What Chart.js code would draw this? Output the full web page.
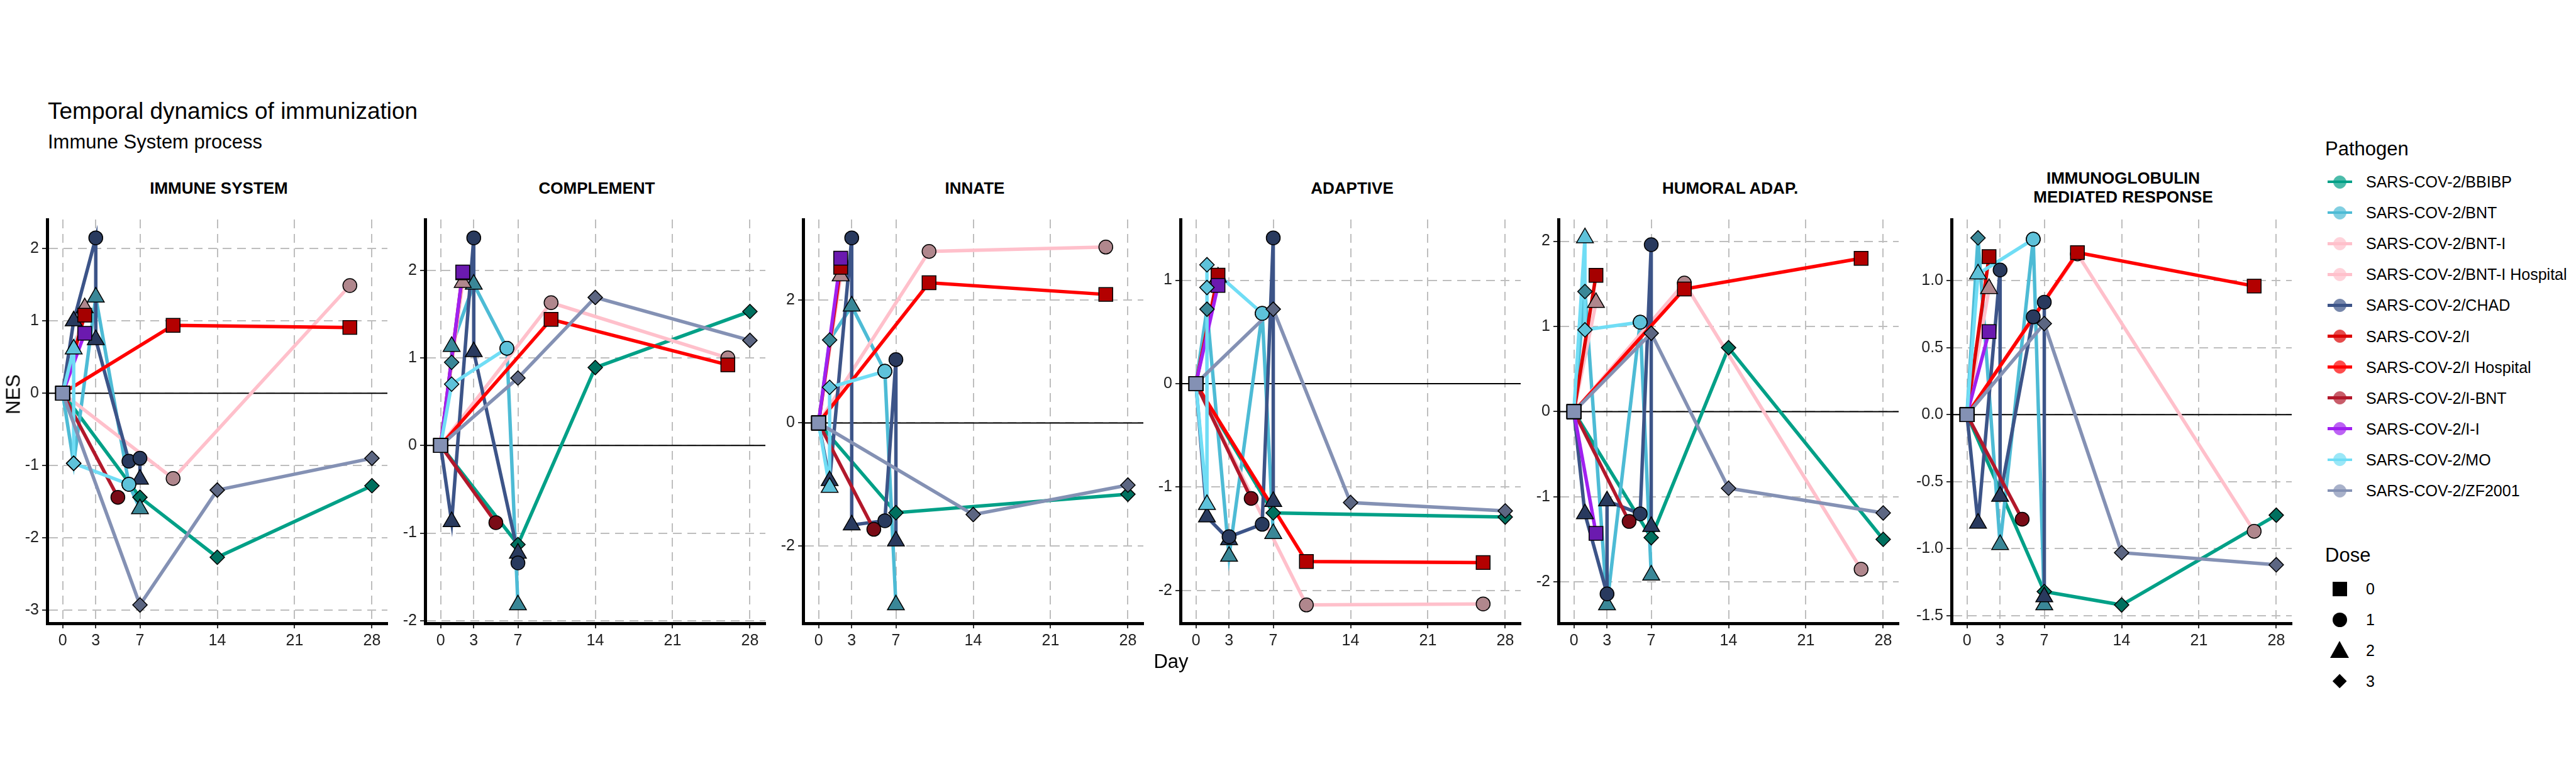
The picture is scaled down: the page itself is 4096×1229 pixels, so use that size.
<!DOCTYPE html>
<html>
<head>
<meta charset="utf-8">
<script src="https://cdn.jsdelivr.net/npm/chart.js@4.4.1/dist/chart.umd.min.js"></script>
<style>
  html, body { margin: 0; padding: 0; background: #fff; }
  body { width: 4096px; height: 1229px; position: relative; overflow: hidden;
         font-family: "Liberation Sans", Arial, Helvetica, sans-serif; color: #000; }
  .t { position: absolute; white-space: nowrap; line-height: 1; }
  canvas { position: absolute; }
  .key { position: absolute; }
</style>
</head>
<body>
<script>
// Temporal dynamics of immunization — NES por dia, um painel por processo

const pathogens = [
  'SARS-COV-2/BBIBP', 'SARS-COV-2/BNT', 'SARS-COV-2/BNT-I', 'SARS-COV-2/BNT-I Hospital',
  'SARS-COV-2/CHAD', 'SARS-COV-2/I', 'SARS-COV-2/I Hospital', 'SARS-COV-2/I-BNT',
  'SARS-COV-2/I-I', 'SARS-COV-2/MO', 'SARS-COV-2/ZF2001'
];
const doses = ['0', '1', '2', '3'];
const panelTitles = ['IMMUNE SYSTEM', 'COMPLEMENT', 'INNATE', 'ADAPTIVE', 'HUMORAL ADAP.',
                     'IMMUNOGLOBULIN|MEDIATED RESPONSE'];
const dayTicks = [0, 3, 7, 14, 21, 28];
const nesTicks = [
  [-3, -2, -1, 0, 1, 2],
  [-2, -1, 0, 1, 2],
  [-2, 0, 2],
  [-2, -1, 0, 1],
  [-2, -1, 0, 1, 2],
  [-1.5, -1, -0.5, 0, 0.5, 1]
];

// [day, NES, dose] por pathogen (mesma ordem de `pathogens`)
const immuneSystem = [
  [[0, 0, 0], [7, -1.44, 3], [14, -2.27, 3], [28, -1.28, 3]],
  [[0, 0, 0], [1, -0.97, 3], [3, 1.33, 2], [6, -1.26, 1], [7, -1.6, 2]],
  [[0, 0, 0], [2, 1.18, 2]],
  [[0, 0, 0], [10, -1.18, 1], [26, 1.49, 1]],
  [[0, 0, 0], [1, 1.0, 2], [3, 2.15, 1], [3, 0.74, 2], [6, -0.94, 1], [7, -0.9, 1], [7, -1.19, 2]],
  [[0, 0, 0], [2, 1.08, 0]],
  [[0, 0, 0], [10, 0.94, 0], [26, 0.91, 0]],
  [[0, 0, 0], [5, -1.44, 1]],
  [[0, 0, 0], [2, 0.83, 0]],
  [[0, 0, 0], [1, 0.61, 2], [1, -0.97, 3], [6, -1.26, 1]],
  [[0, 0, 0], [7, -2.93, 3], [14, -1.34, 3], [28, -0.9, 3]]
];
const complement = [
  [[0, 0, 0], [7, -1.13, 3], [14, 0.89, 3], [28, 1.53, 3]],
  [[0, 0, 0], [1, 0.95, 3], [1, 1.13, 2], [3, 1.84, 2], [6, 1.11, 1], [7, -1.82, 2]],
  [[0, 0, 0], [2, 1.86, 2]],
  [[0, 0, 0], [10, 1.63, 1], [26, 1.0, 1]],
  [[0, 0, 0], [1, -0.87, 2], [3, 2.37, 1], [3, 1.07, 2], [7, -1.23, 2], [7, -1.34, 1]],
  [[0, 0, 0], [2, 1.97, 0]],
  [[0, 0, 0], [10, 1.44, 0], [26, 0.92, 0]],
  [[0, 0, 0], [5, -0.88, 1]],
  [[0, 0, 0], [2, 1.98, 0]],
  [[0, 0, 0], [1, 0.70, 3], [6, 1.11, 1]],
  [[0, 0, 0], [7, 0.77, 3], [14, 1.69, 3], [28, 1.2, 3]]
];
const innate = [
  [[0, 0, 0], [7, -1.46, 3], [28, -1.16, 3]],
  [[0, 0, 0], [1, 1.35, 3], [3, 1.9, 2], [6, 0.84, 1], [7, -2.96, 2]],
  [[0, 0, 0], [2, 2.39, 2]],
  [[0, 0, 0], [10, 2.79, 1], [26, 2.86, 1]],
  [[0, 0, 0], [1, -0.94, 2], [3, 3.01, 1], [3, -1.66, 2], [6, -1.59, 1], [7, 1.03, 1], [7, -1.92, 2]],
  [[0, 0, 0], [2, 2.53, 0]],
  [[0, 0, 0], [10, 2.28, 0], [26, 2.09, 0]],
  [[0, 0, 0], [5, -1.73, 1]],
  [[0, 0, 0], [2, 2.68, 0]],
  [[0, 0, 0], [1, -1.05, 2], [1, 0.58, 3], [6, 0.84, 1]],
  [[0, 0, 0], [14, -1.49, 3], [28, -1.01, 3]]
];
const adaptive = [
  [[0, 0, 0], [7, -1.25, 3], [28, -1.29, 3]],
  [[0, 0, 0], [1, 0.72, 3], [3, -1.67, 2], [6, 0.68, 1], [7, -1.45, 2]],
  [[0, 0, 0], [2, 1.03, 2]],
  [[0, 0, 0], [10, -2.14, 1], [26, -2.13, 1]],
  [[0, 0, 0], [1, -1.29, 2], [3, -1.51, 2], [3, -1.48, 1], [6, -1.36, 1], [7, 1.41, 1], [7, -1.14, 2]],
  [[0, 0, 0], [2, 1.05, 0]],
  [[0, 0, 0], [10, -1.72, 0], [26, -1.73, 0]],
  [[0, 0, 0], [5, -1.11, 1]],
  [[0, 0, 0], [2, 0.95, 0]],
  [[0, 0, 0], [1, -1.17, 2], [1, 0.93, 3], [1, 1.15, 3], [6, 0.68, 1]],
  [[0, 0, 0], [7, 0.72, 3], [14, -1.15, 3], [28, -1.23, 3]]
];
const humoralAdap = [
  [[0, 0, 0], [7, -1.48, 3], [14, 0.75, 3], [28, -1.5, 3]],
  [[0, 0, 0], [1, 1.41, 3], [3, -2.27, 2], [6, 1.05, 1], [7, -1.92, 2]],
  [[0, 0, 0], [2, 1.28, 2]],
  [[0, 0, 0], [10, 1.51, 1], [26, -1.85, 1]],
  [[0, 0, 0], [1, -1.2, 2], [3, -2.14, 1], [3, -1.05, 2], [6, -1.2, 1], [7, 1.96, 1], [7, -1.35, 2]],
  [[0, 0, 0], [2, 1.6, 0]],
  [[0, 0, 0], [10, 1.44, 0], [26, 1.8, 0]],
  [[0, 0, 0], [5, -1.29, 1]],
  [[0, 0, 0], [2, -1.43, 0]],
  [[0, 0, 0], [1, 2.04, 2], [1, 0.96, 3], [6, 1.05, 1]],
  [[0, 0, 0], [7, 0.92, 3], [14, -0.9, 3], [28, -1.19, 3]]
];
const immunoglobulin = [
  [[0, 0, 0], [7, -1.32, 3], [14, -1.42, 3], [28, -0.75, 3]],
  [[0, 0, 0], [1, 1.32, 3], [3, -0.97, 2], [6, 1.31, 1], [7, -1.42, 2]],
  [[0, 0, 0], [2, 0.94, 2]],
  [[0, 0, 0], [10, 1.2, 1], [26, -0.87, 1]],
  [[0, 0, 0], [1, -0.81, 2], [3, 1.08, 1], [3, -0.61, 2], [6, 0.73, 1], [7, 0.84, 1], [7, -1.36, 2]],
  [[0, 0, 0], [2, 1.18, 0]],
  [[0, 0, 0], [10, 1.21, 0], [26, 0.96, 0]],
  [[0, 0, 0], [5, -0.78, 1]],
  [[0, 0, 0], [2, 0.62, 0]],
  [[0, 0, 0], [1, 1.05, 2], [6, 1.31, 1]],
  [[0, 0, 0], [7, 0.68, 3], [14, -1.03, 3], [28, -1.12, 3]]
];
const panels = [immuneSystem, complement, innate, adaptive, humoralAdap, immunoglobulin];

// estilos
const lineColors  = ['#00A087', '#4DBBD5', '#FFC0CB', '#FFC0CB', '#3C5488', '#DC0000',
                     '#FF0000', '#B2182B', '#A020F0', '#70DDF5', '#8491B4'];
const pointColors = ['#00705F', '#3A8797', '#B0878D', '#B0878D', '#293A5E', '#A50000',
                     '#B30000', '#7A0B16', '#6B1AAF', '#5EC2DA', '#5C6682'];
const doseStyle  = ['rect', 'circle', 'triangle', 'rectRot'];
const doseRadius = [15.5, 11, 15.5, 11.5];

const FONT = '"Liberation Sans", Arial, Helvetica, sans-serif';
const PANEL_LEFT = [75, 676, 1277, 1877, 2478, 3103];
const PLOT_TOP = 341, PLOT_W = 546, PLOT_H = 650;
const AXIS_W = 80, X_AXIS_H = 50, PAD = 12;

Chart.defaults.font.family = FONT;

function text(str, x, y, size, opts = {}) {
  const el = document.createElement('div');
  el.className = 't';
  el.textContent = str;
  el.style.fontSize = size + 'px';
  el.style.left = x + 'px';
  el.style.top = y + 'px';
  const tx = opts.align === 'center' ? '-50%' : '0';
  el.style.transform = `translate(${tx}, -50%)` + (opts.rotate ? ' rotate(-90deg)' : '');
  if (opts.bold) el.style.fontWeight = 'bold';
  document.body.appendChild(el);
  return el;
}

// linha do zero
const zeroLine = {
  id: 'zeroLine',
  beforeDatasetsDraw(chart) {
    const { ctx, chartArea: a, scales: { y } } = chart;
    const py = y.getPixelForValue(0);
    ctx.save();
    ctx.strokeStyle = '#000';
    ctx.lineWidth = 2;
    ctx.beginPath();
    ctx.moveTo(a.left, py);
    ctx.lineTo(a.right, py);
    ctx.stroke();
    ctx.restore();
  }
};

panels.forEach((rows, p) => {
  const cv = document.createElement('canvas');
  cv.width = AXIS_W + PLOT_W + PAD;
  cv.height = PAD + PLOT_H + X_AXIS_H;
  cv.style.left = (PANEL_LEFT[p] - AXIS_W) + 'px';
  cv.style.top = (PLOT_TOP - PAD) + 'px';
  document.body.appendChild(cv);

  const vals = rows.flat().map(r => r[1]);
  const lo = Math.min(...vals), hi = Math.max(...vals);
  const ex = (hi - lo) * 0.05;
  const decimals = nesTicks[p].some(v => !Number.isInteger(v)) ? 1 : 0;

  const datasets = [];
  rows.forEach((pts, i) => {
    const data = pts.map(([x, y, d]) => ({ x, y, d }));
    datasets.push({
      data, borderColor: lineColors[i], borderWidth: 5.5, pointRadius: 0,
      order: 100 - i, clip: false
    });
    datasets.push({
      data, showLine: false, clip: false, order: 50 - i,
      pointStyle: c => doseStyle[c.raw.d],
      pointRadius: c => doseRadius[c.raw.d],
      pointBackgroundColor: c => (c.raw.x === 0 ? lineColors[i] : pointColors[i]),
      pointBorderColor: '#000', pointBorderWidth: 1.5
    });
  });

  const axisCommon = {
    type: 'linear',
    grid: { color: '#bebebe', lineWidth: 2, tickLength: 8, tickWidth: 2, tickColor: '#333' },
    border: { color: '#000', width: 5, dash: [14, 9] },
    ticks: { font: { size: 25 }, color: '#222', padding: 5, autoSkip: false, maxRotation: 0 }
  };

  new Chart(cv, {
    type: 'line',
    data: { datasets },
    options: {
      responsive: false, animation: false, events: [],
      layout: { padding: { top: PAD, right: PAD, left: 0, bottom: 0 } },
      plugins: { legend: { display: false }, tooltip: { enabled: false } },
      scales: {
        x: {
          ...axisCommon, min: -1.4, max: 29.4,
          afterBuildTicks: s => { s.ticks = dayTicks.map(v => ({ value: v })); },
          afterFit: s => { s.height = X_AXIS_H; },
          ticks: { ...axisCommon.ticks, callback: v => String(v) }
        },
        y: {
          ...axisCommon, min: lo - ex, max: hi + ex,
          afterBuildTicks: s => { s.ticks = nesTicks[p].map(v => ({ value: v })); },
          afterFit: s => { s.width = AXIS_W; },
          ticks: { ...axisCommon.ticks, callback: v => v.toFixed(decimals) }
        }
      }
    },
    plugins: [zeroLine]
  });

  // título do painel
  const cx = PANEL_LEFT[p] + PLOT_W / 2;
  const lines = panelTitles[p].split('|');
  if (lines.length === 1) text(lines[0], cx, 299, 26, { align: 'center', bold: true });
  else lines.forEach((l, k) => text(l, cx, 283 + k * 30, 26, { align: 'center', bold: true }));
});

// títulos e eixos
text('Temporal dynamics of immunization', 76, 176, 37);
text('Immune System process', 76, 225, 31);
text('Day', 1862, 1051, 31, { align: 'center' });
text('NES', 21, 627, 31, { align: 'center', rotate: true });

// legenda
const LX = 3697, KEY_CX = 3720, LTX = 3762, STEP = 49.1;
text('Pathogen', LX, 236, 31);
pathogens.forEach((name, i) => {
  const y = 289 + i * STEP;
  const ln = document.createElement('div');
  ln.className = 'key';
  Object.assign(ln.style, { left: '3701px', top: (y - 2.4) + 'px', width: '39px', height: '4.8px',
                            background: lineColors[i] });
  document.body.appendChild(ln);
  const dot = document.createElement('div');
  dot.className = 'key';
  Object.assign(dot.style, { left: (KEY_CX - 10.5) + 'px', top: (y - 10.5) + 'px', width: '21px', height: '21px',
                             borderRadius: '50%', boxSizing: 'border-box', background: lineColors[i],
                             opacity: 0.7, border: '1.5px solid ' + lineColors[i] });
  document.body.appendChild(dot);
  text(name, LTX, y, 25);
});

text('Dose', LX, 882, 31);
doses.forEach((d, j) => {
  const y = 936 + j * STEP;
  const k = document.createElement('div');
  k.className = 'key';
  if (j === 0) Object.assign(k.style, { left: (KEY_CX - 11.5) + 'px', top: (y - 11.5) + 'px', width: '23px', height: '23px', background: '#000' });
  if (j === 1) Object.assign(k.style, { left: (KEY_CX - 11.5) + 'px', top: (y - 11.5) + 'px', width: '23px', height: '23px', background: '#000', borderRadius: '50%' });
  if (j === 2) Object.assign(k.style, { left: (KEY_CX - 15.5) + 'px', top: (y - 15) + 'px', width: 0, height: 0,
                                        borderLeft: '15.5px solid transparent', borderRight: '15.5px solid transparent',
                                        borderBottom: '27px solid #000' });
  if (j === 3) Object.assign(k.style, { left: (KEY_CX - 8.2) + 'px', top: (y - 8.2) + 'px', width: '16.4px', height: '16.4px',
                                        background: '#000', transform: 'rotate(45deg)' });
  document.body.appendChild(k);
  text(d, LTX, y, 25);
});
</script>
</body>
</html>
